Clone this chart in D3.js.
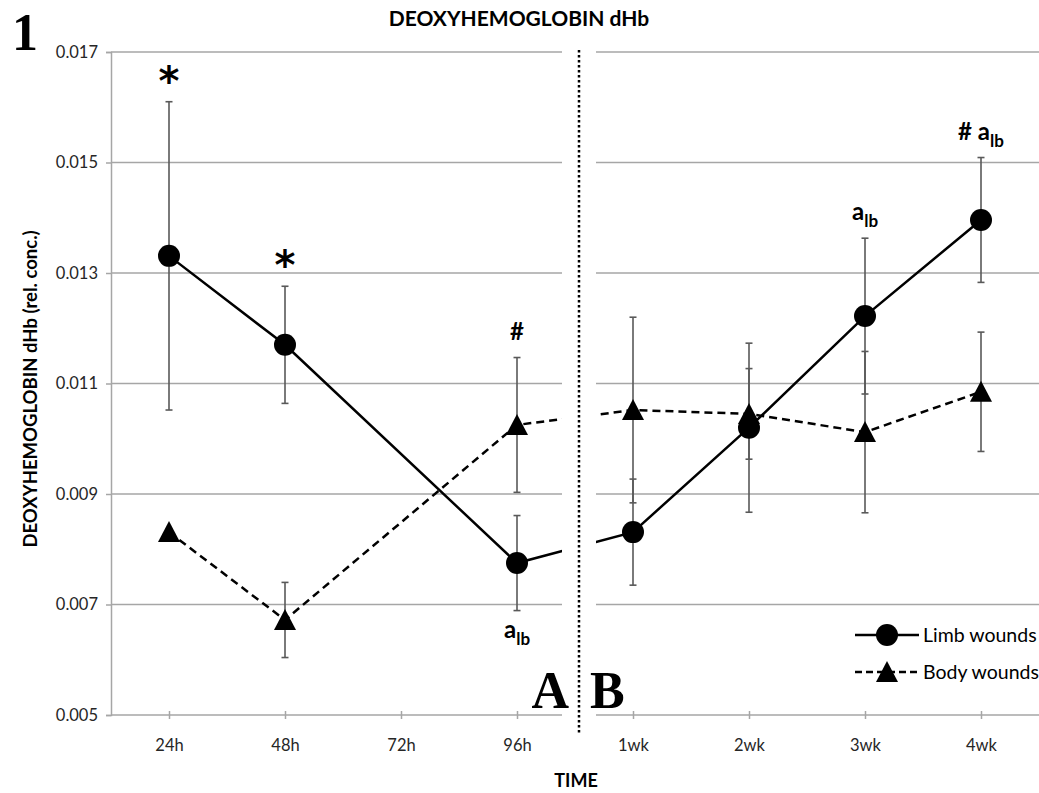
<!DOCTYPE html>
<html lang="en">
<head>
  <meta charset="UTF-8">
  <title>Deoxyhemoglobin dHb</title>
  <script src="https://d3js.org/d3.v7.min.js"></script>
  <style>
    body { margin: 0; background: #fff; }
    svg { display: block; font-family: Lato, "Open Sans", sans-serif; }
  </style>
</head>
<body>
  <svg id="chart" width="1039" height="793"></svg>

<script>
  // categories on the time axis (A = hours, B = weeks)
  const categories = ["24h", "48h", "72h", "96h", "1wk", "2wk", "3wk", "4wk"];
  const yTicks = [0.005, 0.007, 0.009, 0.011, 0.013, 0.015, 0.017];

  // mean values and error bars (null = no value)
  const limbMean = [0.01331, 0.01170, null, 0.00775, 0.00831, 0.01020, 0.01222, 0.01396];
  const limbErr  = [0.00279, 0.00106, null, 0.00086, 0.00096, 0.00153, 0.00141, 0.00113];
  const bodyMean = [0.00831, 0.00672, null, 0.01025, 0.01052, 0.01045, 0.01012, 0.01085];
  const bodyErr  = [null,    0.00068, null, 0.00122, 0.00168, 0.00082, 0.00146, 0.00108];

  // significance marks
  const marks = [
    { cat: "24h", series: "limb", side: "above", text: "*" },
    { cat: "48h", series: "limb", side: "above", text: "*" },
    { cat: "96h", series: "body", side: "above", text: "#" },
    { cat: "96h", series: "limb", side: "below", text: "a", sub: "lb" },
    { cat: "3wk", series: "limb", side: "above", text: "a", sub: "lb" },
    { cat: "4wk", series: "limb", side: "above", text: "# a", sub: "lb" }
  ];

  const legendItems = ["Limb wounds", "Body wounds"];

(() => {
  const svg = d3.select("#chart");
  const plotLeft = 111, plotRight = 1039, plotTop = 52, plotBottom = 715;
  const gapX0 = 562, gapX1 = 596, splitX = 579;

  const x = d3.scalePoint().domain(categories).range([plotLeft, plotRight]).padding(0.5);
  const y = d3.scaleLinear().domain([0.005, 0.017]).range([plotBottom, plotTop]);

  const series = {
    limb: categories.map((c, i) => ({ cat: c, v: limbMean[i], e: limbErr[i] })),
    body: categories.map((c, i) => ({ cat: c, v: bodyMean[i], e: bodyErr[i] }))
  };

  const gridColor = "#a6a6a6";

  // gridlines
  svg.append("g")
    .selectAll("line")
    .data(yTicks.slice(1))
    .enter().append("line")
    .attr("x1", plotLeft).attr("x2", plotRight)
    .attr("y1", d => y(d)).attr("y2", d => y(d))
    .attr("stroke", gridColor).attr("stroke-width", 1.5);

  // y axis
  const yAxis = svg.append("g")
    .attr("transform", `translate(${plotLeft},0)`)
    .call(d3.axisLeft(y).tickValues(yTicks).tickSize(5).tickPadding(8).tickFormat(d3.format(".3f")));
  yAxis.select(".domain").attr("stroke", gridColor).attr("stroke-width", 1.5);
  yAxis.selectAll(".tick line").attr("stroke", gridColor).attr("stroke-width", 1.5);
  yAxis.selectAll(".tick text").attr("font-size", "16.5px").attr("font-family", "Lato").attr("fill", "#262626");

  // x axis
  const xAxis = svg.append("g")
    .attr("transform", `translate(0,${plotBottom})`)
    .call(d3.axisBottom(x).tickSizeInner(4).tickSizeOuter(0).tickPadding(20));
  xAxis.select(".domain").attr("stroke", gridColor).attr("stroke-width", 1.5).attr("d", `M${plotLeft},0H${plotRight}`);
  xAxis.selectAll(".tick line").attr("stroke", gridColor).attr("stroke-width", 1.5).attr("y1", -4);
  xAxis.selectAll(".tick text").attr("font-size", "16.5px").attr("font-family", "Lato").attr("fill", "#262626");

  // error bars
  const errData = [];
  Object.keys(series).forEach(k => series[k].forEach(d => { if (d.v != null && d.e != null) errData.push(d); }));
  const eb = svg.append("g").attr("stroke", "#595959").attr("stroke-width", 1.6);
  errData.forEach(d => {
    const cx = x(d.cat), y0 = y(d.v + d.e), y1 = y(d.v - d.e);
    eb.append("line").attr("x1", cx).attr("x2", cx).attr("y1", y0).attr("y2", y1);
    eb.append("line").attr("x1", cx - 3.5).attr("x2", cx + 3.5).attr("y1", y0).attr("y2", y0);
    eb.append("line").attr("x1", cx - 3.5).attr("x2", cx + 3.5).attr("y1", y1).attr("y2", y1);
  });

  // lines (skip missing 72h)
  const line = d3.line().x(d => x(d.cat)).y(d => y(d.v));
  svg.append("path")
    .datum(series.limb.filter(d => d.v != null))
    .attr("fill", "none").attr("stroke", "#000").attr("stroke-width", 2.5)
    .attr("d", line);
  svg.append("path")
    .datum(series.body.filter(d => d.v != null))
    .attr("fill", "none").attr("stroke", "#000").attr("stroke-width", 2.5)
    .attr("stroke-dasharray", "8,5")
    .attr("d", line);

  // white gap between part A and B
  svg.append("rect")
    .attr("x", gapX0).attr("y", plotTop - 8)
    .attr("width", gapX1 - gapX0).attr("height", plotBottom - plotTop + 16)
    .attr("fill", "#fff");

  // dotted split line
  svg.append("line")
    .attr("x1", splitX).attr("x2", splitX)
    .attr("y1", 50).attr("y2", 734)
    .attr("stroke", "#000").attr("stroke-width", 2.5)
    .attr("stroke-dasharray", "2.5,2.5");

  const tri = "M0,-11L11,10L-11,10Z";

  // markers
  svg.append("g").selectAll("circle")
    .data(series.limb.filter(d => d.v != null))
    .enter().append("circle")
    .attr("cx", d => x(d.cat)).attr("cy", d => y(d.v))
    .attr("r", 11).attr("fill", "#000");

  svg.append("g").selectAll("path")
    .data(series.body.filter(d => d.v != null))
    .enter().append("path")
    .attr("transform", d => `translate(${x(d.cat)},${y(d.v)})`)
    .attr("d", tri).attr("fill", "#000");

  // significance marks
  marks.forEach(m => {
    const d = series[m.series].find(p => p.cat === m.cat);
    const cx = x(m.cat);
    let base;
    if (m.side === "above") base = y(d.v + d.e) - (m.text === "*" ? 7 : 18);
    else base = y(d.v - d.e) + 27;
    const t = svg.append("text")
      .attr("x", cx).attr("y", base)
      .attr("text-anchor", "middle")
      .attr("font-weight", "bold")
      .attr("fill", "#000");
    if (m.text === "*") {
      t.attr("font-family", "DejaVu Sans").attr("font-size", "40px").text("*");
    } else {
      t.attr("font-family", "Lato").attr("font-size", "24px");
      t.append("tspan").text(m.text);
      if (m.sub) t.append("tspan").attr("dy", 7).attr("font-size", "17px").text(m.sub);
    }
  });

  // legend
  const lg = svg.append("g");
  legendItems.forEach((name, i) => {
    const ly = 635 + i * 37;
    lg.append("line")
      .attr("x1", 855).attr("x2", 919).attr("y1", ly).attr("y2", ly)
      .attr("stroke", "#000").attr("stroke-width", 2.5)
      .attr("stroke-dasharray", i === 1 ? "7,4" : null);
    if (i === 0) lg.append("circle").attr("cx", 887).attr("cy", ly).attr("r", 11).attr("fill", "#000");
    else lg.append("path").attr("transform", `translate(887,${ly})`).attr("d", tri).attr("fill", "#000");
    lg.append("text")
      .attr("x", 923).attr("y", ly + 6.5)
      .attr("font-size", "19.5px").attr("fill", "#000")
      .text(name);
  });

  // panel letters
  svg.append("text")
    .attr("x", 569).attr("y", 708).attr("text-anchor", "end")
    .attr("font-family", "Liberation Serif").attr("font-weight", "bold").attr("font-size", "52px")
    .text("A");
  svg.append("text")
    .attr("x", 590).attr("y", 708)
    .attr("font-family", "Liberation Serif").attr("font-weight", "bold").attr("font-size", "52px")
    .text("B");
  svg.append("text")
    .attr("x", 12).attr("y", 50)
    .attr("font-family", "Liberation Serif").attr("font-weight", "bold").attr("font-size", "52px")
    .text("1");

  // titles
  svg.append("text")
    .attr("x", 519).attr("y", 26).attr("text-anchor", "middle")
    .attr("font-size", "21px").attr("font-weight", "bold")
    .text("DEOXYHEMOGLOBIN dHb");

  svg.append("text")
    .attr("transform", "translate(37,389) rotate(-90)")
    .attr("text-anchor", "middle")
    .attr("font-size", "18.5px").attr("font-weight", "bold")
    .text("DEOXYHEMOGLOBIN dHb (rel. conc.)");

  svg.append("text")
    .attr("x", 576).attr("y", 787).attr("text-anchor", "middle")
    .attr("font-size", "18px").attr("font-weight", "bold")
    .text("TIME");
})();
</script>
</body>
</html>
